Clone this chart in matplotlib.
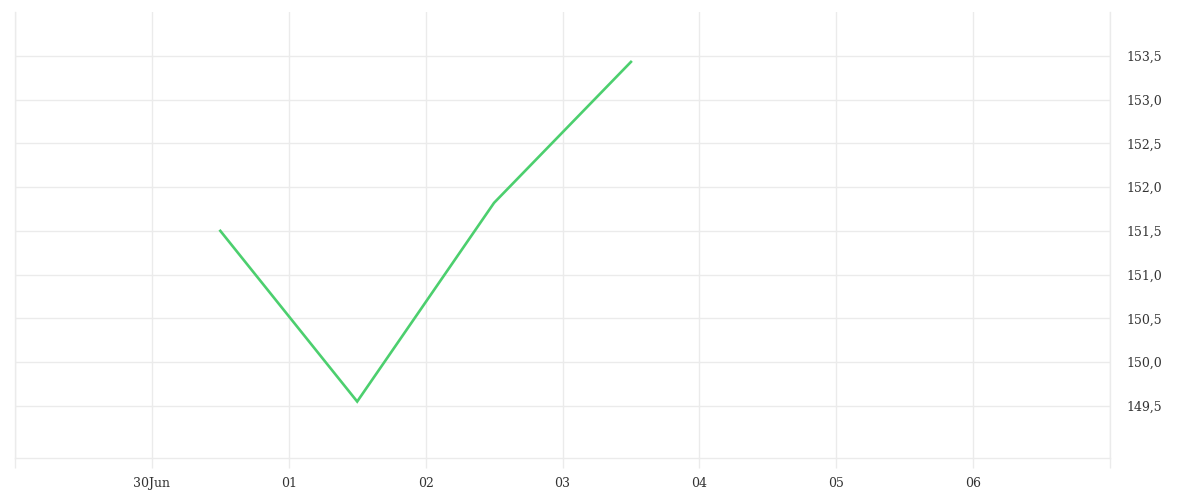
import matplotlib
matplotlib.use("Agg")
import matplotlib.pyplot as plt
import datetime as dt

# data
dates = ["2024-06-30 12:00", "2024-07-01 12:00", "2024-07-02 12:00", "2024-07-03 12:00"]
values = [151.5, 149.55, 151.82, 153.43]
tick_days = ["2024-06-29", "2024-06-30", "2024-07-01", "2024-07-02", "2024-07-03",
             "2024-07-04", "2024-07-05", "2024-07-06", "2024-07-07"]
tick_labels = ["", "30Jun", "01", "02", "03", "04", "05", "06", ""]
y_ticks = [149.5, 150.0, 150.5, 151.0, 151.5, 152.0, 152.5, 153.0, 153.5]

grid_c = "#ebebeb"
text_c = "#333333"
line_c = "#4ccf6e"

plt.rcParams['font.family'] = ['DejaVu Serif']

fig = plt.figure(figsize=(12, 5), dpi=100)
ax = fig.add_axes([15/1200, 1-458/500, (1110-15)/1200, (458-12)/500])

x = [dt.datetime.strptime(d, "%Y-%m-%d %H:%M") for d in dates]
xt = [dt.datetime.strptime(d, "%Y-%m-%d") for d in tick_days]
ax.plot(x, values, color=line_c, lw=1.9, solid_joinstyle='miter', zorder=3)

ax.set_xlim(xt[0], xt[-1])
ax.set_ylim(148.905, 154.0)
ax.set_xticks(xt)
ax.set_xticklabels(tick_labels)
ax.set_yticks(y_ticks)
ax.set_yticklabels([f"{v:.1f}".replace(".", ",") for v in y_ticks])
ax.yaxis.tick_right()

ax.grid(True, color=grid_c, lw=1)
ax.set_axisbelow(True)
ax.spines["top"].set_visible(False)
for s in ["left", "right", "bottom"]:
    ax.spines[s].set_color(grid_c)
    ax.spines[s].set_linewidth(1)

ax.tick_params(axis='x', length=7, color=grid_c, width=1, pad=6.5, labelsize=9, labelcolor=text_c)
ax.tick_params(axis='y', length=0, pad=12, labelsize=9, labelcolor=text_c)

fig.savefig("out.png", dpi=100, facecolor="white")
